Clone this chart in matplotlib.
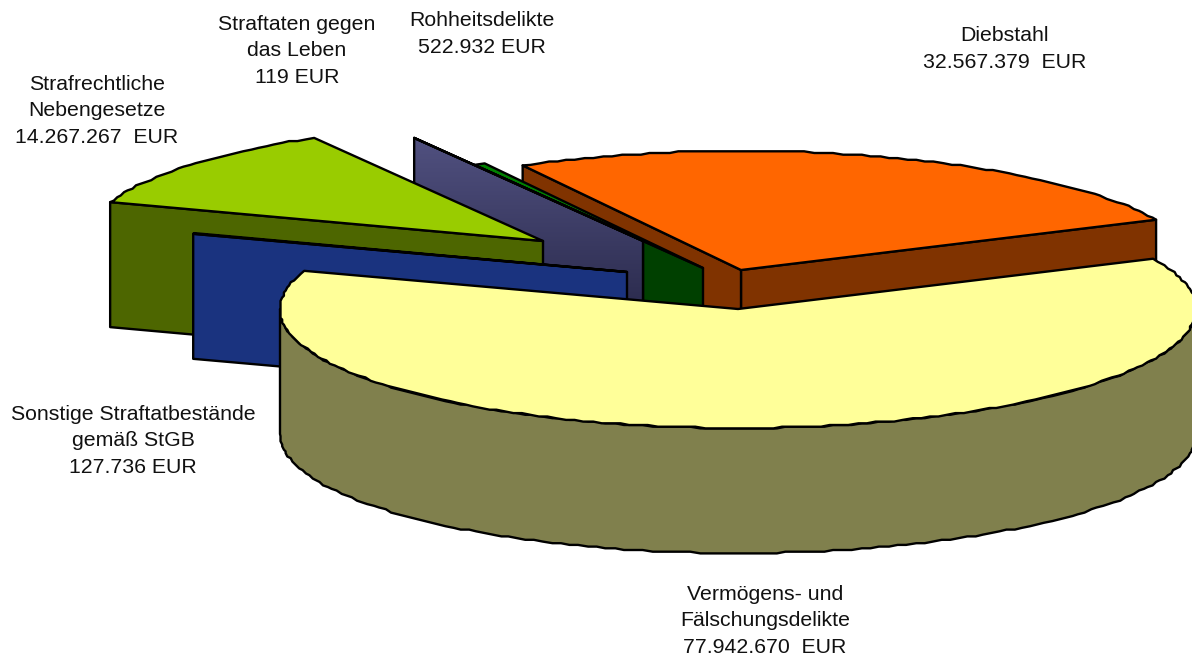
import numpy as np
import matplotlib
matplotlib.use('Agg')
import matplotlib.pyplot as plt
from matplotlib.patches import Polygon
from matplotlib.colors import LinearSegmentedColormap

plt.rcParams['font.family'] = ['Liberation Sans', 'DejaVu Sans']

# Data, in the order the pie runs (counter clockwise)
names = ['Diebstahl', 'Rohheitsdelikte', 'Straftaten gegen\ndas Leben',
         'Strafrechtliche\nNebengesetze', 'Sonstige Straftatbestände\ngemäß StGB',
         'Vermögens- und\nFälschungsdelikte']
values = [32567379, 522932, 119, 14267267, 127736, 77942670]

# Style
top_colors = ['#FF6600', '#008000', '#4F4F84', '#99CC00', '#1A337F', '#FFFF99']
side_colors = ['#803300', '#004000', '#4F4F84', '#4D6600', '#1A337F', '#80804D']
apex_x = [741, 703, 643, 543, 627, 738]
apex_y = [270, 268, 241, 241, 272, 309]
label_x = [1005, 482, 297, 97, 133, 765]
label_y = [49, 34, 51, 111, 441, 621]

RX, RY, DEPTH = 458, 119, 125
START = 25
LW = 1.7
STEP = 1.7


def rim(cx, cy, t0, t1):
    # outer arc of the ellipse, snapped a bit coarsely like the original's jagged edge
    n = max(2, int(abs(t1 - t0) / 1.2) + 1)
    t = np.radians(np.linspace(t0, t1, n))
    x = cx + RX * np.cos(t)
    y = cy - RY * np.sin(t)
    xs = np.round(x / STEP) * STEP
    ys = np.round(y / STEP) * STEP
    xs[0], xs[-1], ys[0], ys[-1] = x[0], x[-1], y[0], y[-1]
    return np.column_stack([xs, ys])


def add_poly(ax, pts, color, z):
    p = Polygon(pts, closed=True, facecolor=color, edgecolor='black',
                linewidth=LW, joinstyle='round', zorder=z)
    ax.add_patch(p)
    return p


fig = plt.figure(figsize=(11.92, 6.58), dpi=100)
ax = fig.add_axes([0, 0, 1, 1])

angles = np.cumsum([0] + values) / sum(values) * 360 + START
z = 1
for i in range(len(values)):
    cx, cy = apex_x[i], apex_y[i]
    t0, t1 = angles[i], angles[i + 1]
    arc = rim(cx, cy, t0, t1)

    # cut faces that look towards the viewer
    for t, show in [(t0, np.cos(np.radians(t0)) > 0), (t1, np.cos(np.radians(t1)) < 0)]:
        if show:
            ex = cx + RX * np.cos(np.radians(t))
            ey = cy - RY * np.sin(np.radians(t))
            face = [(cx, cy), (ex, ey), (ex, ey + DEPTH), (cx, cy + DEPTH)]
            p = add_poly(ax, face, side_colors[i], z)
            z += 1
            if i == 2:
                # this plate fades to a darker tone towards the bottom
                grad = np.linspace(0, 1, 256)[:, None]
                cmap = LinearSegmentedColormap.from_list('plate', ['#50507F', '#2A2A4C'])
                im = ax.imshow(grad, cmap=cmap, extent=(ex, cx, 315, 140), aspect='auto', zorder=z)
                im.set_clip_path(p)
                add_poly(ax, face, 'none', z + 1)
                z += 2

    # curved outer wall, front half only
    a0, a1 = max(t0, 180), min(t1, 360)
    if a1 > a0:
        wall = rim(cx, cy, a0, a1)
        add_poly(ax, np.vstack([wall, (wall + [0, DEPTH])[::-1]]), side_colors[i], z)
        z += 1

    add_poly(ax, np.vstack([[cx, cy], arc]), top_colors[i], z)
    z += 1

for i, name in enumerate(names):
    gap = '  ' if values[i] >= 1000000 else ' '
    txt = f"{name}\n{values[i]:,}".replace(',', '.') + gap + 'EUR'
    ax.text(label_x[i], label_y[i], txt, ha='center', va='center', fontsize=15.3,
            color='#111111', linespacing=1.48, zorder=100)

ax.set_xlim(0, 1192)
ax.set_ylim(658, 0)
ax.axis('off')
fig.savefig('out.png', dpi=100)
